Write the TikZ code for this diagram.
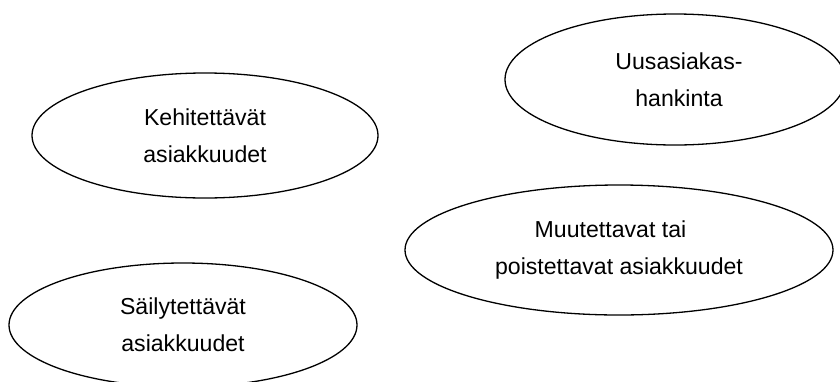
\documentclass[tikz,border=0pt]{standalone}
\usepackage{fontspec}
\setmainfont{Liberation Sans}
\usetikzlibrary{shapes.geometric}

\tikzset{
  oval/.style={draw=black, line width=1.3pt, ellipse, inner sep=0pt, align=center,
               font=\fontsize{23.1}{37}\selectfont},
}

\begin{document}
\begin{tikzpicture}[x=1pt, y=-1pt]
  \useasboundingbox (0,0) rectangle (840,381);

  \node[oval, minimum width=346pt, minimum height=125pt] (kehit) at (205,135.5)
    {Kehitettävät\\asiakkuudet};
  \node[oval, minimum width=340pt, minimum height=131pt] (uus) at (675,79.5)
    {\hspace*{8pt}Uusasiakas-\\\hspace*{8pt}hankinta};
  \node[oval, minimum width=428pt, minimum height=130pt] (muut) at (619,250)
    {Muutettavat tai\hspace*{17pt}\\poistettavat asiakkuudet};
  \node[oval, minimum width=348pt, minimum height=124pt] (sail) at (183,325)
    {Säilytettävät\\asiakkuudet};
\end{tikzpicture}
\end{document}
